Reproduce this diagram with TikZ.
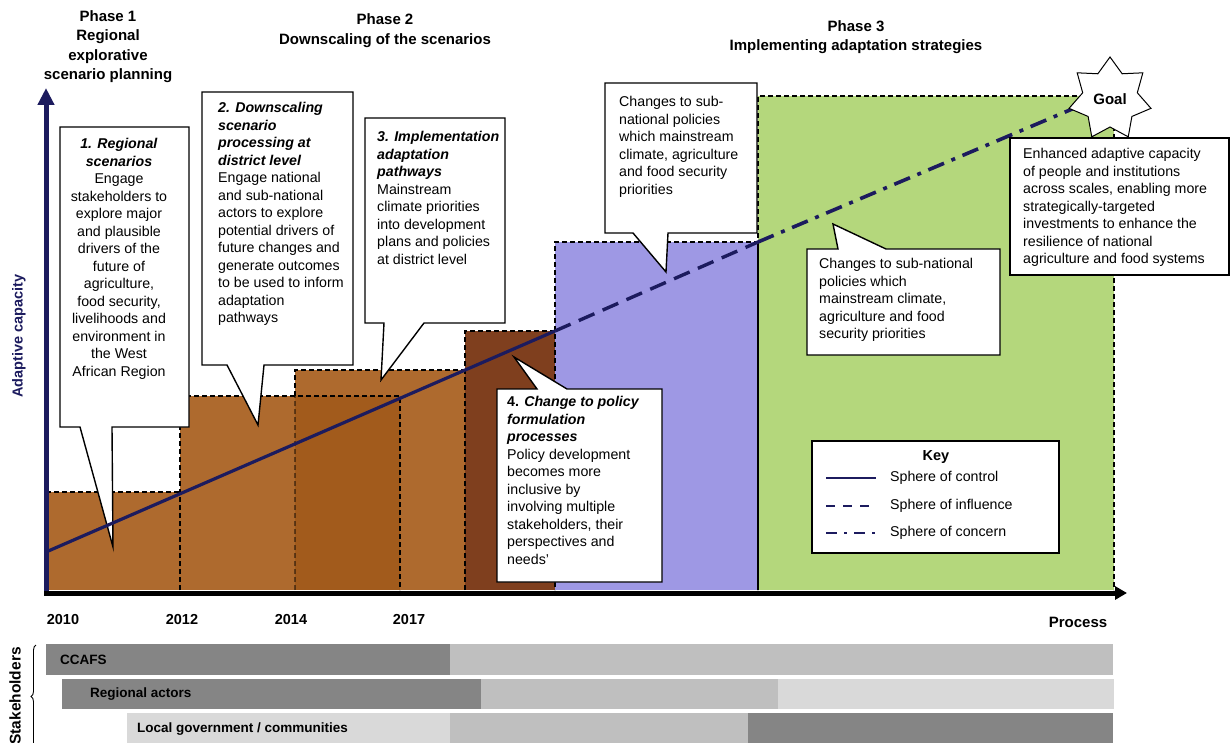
\documentclass[tikz,border=0pt]{standalone}
\usepackage{fontspec}
\setmainfont{Liberation Sans}
\usetikzlibrary{arrows.meta,shapes.geometric,decorations.pathreplacing}

\definecolor{navy}{RGB}{28,27,94}
\definecolor{brownbar}{RGB}{174,106,46}
\definecolor{brownover}{RGB}{162,91,28}
\definecolor{darkbrown}{RGB}{127,63,30}
\definecolor{lilac}{RGB}{158,152,228}
\definecolor{leaf}{RGB}{180,215,124}
\definecolor{greyD}{RGB}{133,133,133}
\definecolor{greyM}{RGB}{191,191,191}
\definecolor{greyL}{RGB}{217,217,217}

\begin{document}
\begin{tikzpicture}[x=1pt,y=-1pt,
  ctext/.style={font=\fontsize{14.2}{17.5}\selectfont, inner sep=0pt, align=left, anchor=north west},
  callout/.style={draw=black, line width=1.4pt, fill=white, line join=miter},
  bdash/.style={draw=black, line width=1.3pt, dash pattern=on 5pt off 3pt},
  phase/.style={font=\fontsize{15}{19.3}\selectfont\bfseries, align=center, inner sep=0pt, anchor=north},
  year/.style={font=\fontsize{14.5}{17}\selectfont\bfseries, inner sep=0pt},
  stk/.style={font=\fontsize{13.5}{16}\selectfont\bfseries, inner sep=0pt, anchor=west},
  keylbl/.style={font=\fontsize{14.2}{17}\selectfont, inner sep=0pt, anchor=west},
  control/.style={navy, line width=3.2pt},
  influence/.style={navy, line width=3.4pt, dash pattern=on 17pt off 9pt},
  concern/.style={navy, line width=3.6pt, dash pattern=on 17pt off 8pt on 4pt off 8pt},
]
\useasboundingbox (0,0) rectangle (1231,743);

% ---- phase headings ----
\node[phase] (ph1) at (108,10.5) {Phase 1\\Regional\\explorative\\scenario planning};
\node[phase, font=\fontsize{15}{20}\selectfont\bfseries] (ph2) at (385,13.5) {Phase 2\\Downscaling of the scenarios};
\node[phase] (ph3) at (856,20.5) {Phase 3\\Implementing adaptation strategies};

% ---- bars ----
\fill[brownbar] (46,492) rectangle (180,590);
\fill[brownbar] (180,396) rectangle (400,590);
\fill[brownbar] (295,370) rectangle (465,590);
\fill[brownover] (295,396) rectangle (400,590);
\fill[darkbrown] (465,331) rectangle (555,590);
\fill[lilac] (555,242) rectangle (758,590);
\fill[leaf] (758,96) rectangle (1114,590);

% dashed outlines of the bars
\draw[bdash] (46,492) -- (180,492);
\draw[bdash] (180,590) -- (180,396) -- (400,396) -- (400,590);
\draw[bdash] (295,396) -- (295,370) -- (465,370);
\draw[bdash, opacity=0.45] (295,590) -- (295,396);
\draw[bdash] (465,590) -- (465,331) -- (555,331) -- (555,590);
\draw[bdash] (555,331) -- (555,242) -- (758,242) -- (758,590);
\draw[bdash] (758,590) -- (758,96) -- (1114,96) -- (1114,590);

% ---- axes ----
\draw[navy, line width=5pt, -{Triangle[width=16pt,length=17pt]}] (46,595) -- (46,88);
\draw[black, line width=5pt, -{Triangle[width=13pt,length=12pt]}] (44,593) -- (1127,593);
\node[font=\fontsize{14.5}{17}\selectfont\bfseries, text=navy, rotate=90, inner sep=0pt] (ylab) at (19,336) {Adaptive capacity};

% ---- callouts 1 to 3 ----
\draw[callout] (60,127) -- (189,127) -- (189,427) -- (112,427) -- (113,547) -- (80,427) -- (60,427) -- cycle;
\node[ctext, anchor=north, align=center] (c1t) at (119,138.5) {\textbf{\textit{1. Regional}}\\\textbf{\textit{scenarios}}\\Engage\\stakeholders to\\explore major\\and plausible\\drivers of the\\future of\\agriculture,\\food security,\\livelihoods and\\environment in\\the West\\African Region};

\draw[callout] (202,92) -- (353,92) -- (353,365) -- (264,365) -- (258,425) -- (227,365) -- (202,365) -- cycle;
\node[ctext] (c2t) at (218,102.5) {\textbf{\textit{2. Downscaling}}\\\textbf{\textit{scenario}}\\\textbf{\textit{processing at}}\\\textbf{\textit{district level}}\\Engage national\\and sub-national\\actors to explore\\potential drivers of\\future changes and\\generate outcomes\\to be used to inform\\adaptation\\pathways};

\draw[callout] (365,118) -- (505,118) -- (505,323) -- (424,323) -- (381,380) -- (384,323) -- (365,323) -- cycle;
\node[ctext] (c3t) at (377,131.5) {\textbf{\textit{3. Implementation}}\\\textbf{\textit{adaptation}}\\\textbf{\textit{pathways}}\\Mainstream\\climate priorities\\into development\\plans and policies\\at district level};

% ---- pathway of adaptive capacity ----
\coordinate (p0) at (46,552);
\coordinate (p1) at (555,331);
\coordinate (p2) at (758,242);
\coordinate (p3) at (1077,107);
\draw[control] (p0) -- (p1);
\draw[influence] (p1) -- (p2);
\draw[concern] (p2) -- (p3);

% ---- callouts 4 to 7 ----
\draw[callout] (497,389) -- (537,389) -- (514,357) -- (567,389) -- (662,389) -- (662,582) -- (497,582) -- cycle;
\node[ctext] (c4t) at (507,396.5) {\textbf{4. \textit{Change to policy}}\\\textbf{\textit{formulation}}\\\textbf{\textit{processes}}\\Policy development\\becomes more\\inclusive by\\involving multiple\\stakeholders, their\\perspectives and\\needs'};

\draw[callout] (605,83) -- (757,83) -- (757,233) -- (668,233) -- (666,272) -- (633,233) -- (605,233) -- cycle;
\node[ctext] (c5t) at (619,96.5) {Changes to sub-\\national policies\\which mainstream\\climate, agriculture\\and food security\\priorities};

\draw[callout] (807,249) -- (838,249) -- (833,224) -- (886,249) -- (1000,249) -- (1000,355) -- (807,355) -- cycle;
\node[ctext] (c6t) at (819,258.5) {Changes to sub-national\\policies which\\mainstream climate,\\agriculture and food\\security priorities};

\draw[callout] (1010,138) rectangle (1229,275);
\node[ctext] (c7t) at (1023,148.5) {Enhanced adaptive capacity\\of people and institutions\\across scales, enabling more\\strategically-targeted\\investments to enhance the\\resilience of national\\agriculture and food systems};

% ---- goal ----
\node[star, star points=7, star point ratio=1.5, minimum size=84pt, inner sep=0pt,
      draw=black, fill=white, line width=1pt,
      font=\fontsize{15}{18}\selectfont\bfseries] (goal) at (1110,99) {Goal};

% ---- key ----
\node[draw=black, fill=white, line width=1.2pt, minimum width=247pt, minimum height=112pt, inner sep=0pt] (keybox) at (935.5,497) {};
\node[font=\fontsize{14.5}{17}\selectfont\bfseries, inner sep=0pt] (keyt) at (936,457) {Key};
\coordinate (k1a) at (826,478); \coordinate (k1b) at (876,478);
\coordinate (k2a) at (826,506); \coordinate (k2b) at (876,506);
\coordinate (k3a) at (826,533); \coordinate (k3b) at (876,533);
\draw[navy, line width=2.6pt] (k1a) -- (k1b);
\draw[navy, line width=2.8pt, dash pattern=on 9pt off 8pt] (k2a) -- (k2b);
\draw[navy, line width=2.8pt, dash pattern=on 11pt off 7pt on 3pt off 7pt] (k3a) -- (k3b);
\node[keylbl] (k1) at (890,478) {Sphere of control};
\node[keylbl] (k2) at (890,506) {Sphere of influence};
\node[keylbl] (k3) at (890,533) {Sphere of concern};

% ---- time labels ----
\node[year] (y10) at (63,620) {2010};
\node[year] (y12) at (182,620) {2012};
\node[year] (y14) at (291,620) {2014};
\node[year] (y17) at (409,620) {2017};
\node[year, font=\fontsize{15}{18}\selectfont\bfseries] (proc) at (1078,622) {Process};

% ---- stakeholders ----
\fill[greyD] (46,644) rectangle (450,675);
\fill[greyM] (450,644) rectangle (1113,675);
\fill[greyD] (62,679) rectangle (481,709);
\fill[greyM] (481,679) rectangle (778,709);
\fill[greyL] (778,679) rectangle (1114,709);
\fill[greyL] (127,713) rectangle (450,743);
\fill[greyM] (450,713) rectangle (748,743);
\fill[greyD] (748,713) rectangle (1113,743);
\node[stk] (s1) at (60,660) {CCAFS};
\node[stk] (s2) at (90,694) {Regional actors};
\node[stk] (s3) at (137,729) {Local government / communities};
\draw[black, line width=0.9pt, decorate, decoration={brace, amplitude=5pt}] (36,748) -- (36,645);
\node[font=\fontsize{15.5}{18}\selectfont\bfseries, rotate=90, inner sep=0pt] (stkl) at (15,696) {Stakeholders};
\end{tikzpicture}
\end{document}
